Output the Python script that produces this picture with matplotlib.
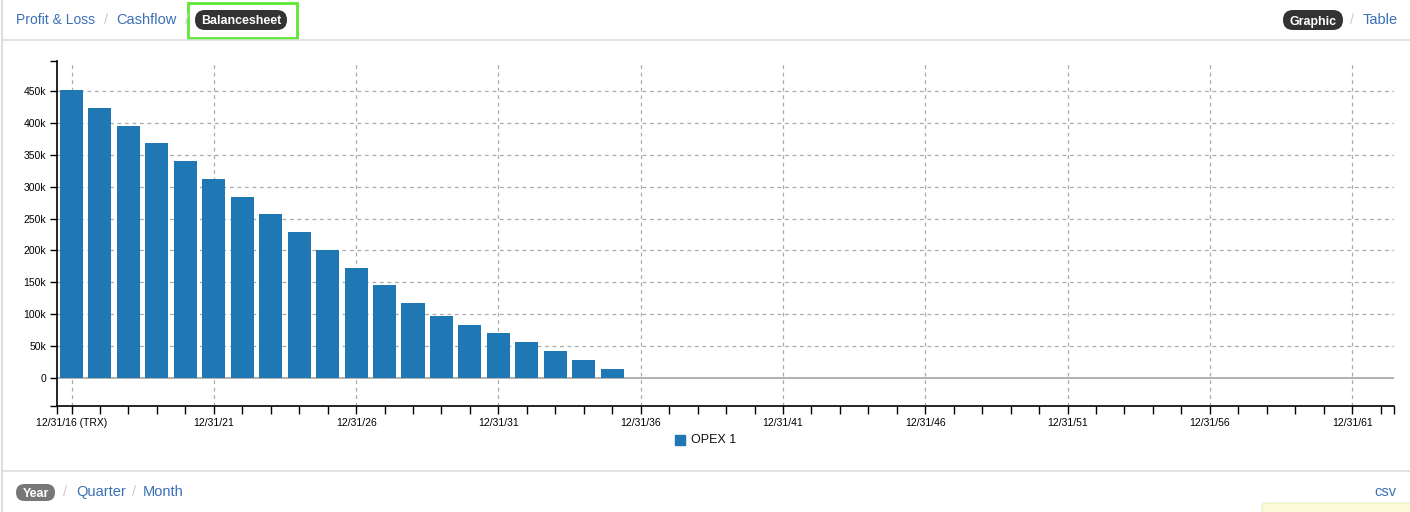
import matplotlib
matplotlib.use("Agg")
import matplotlib.pyplot as plt
from matplotlib.patches import Rectangle, FancyBboxPatch

plt.rcParams['font.family'] = ['Liberation Sans', 'DejaVu Sans']

# ---- data ----
years = list(range(2016, 2036))
opex1 = [452000, 423000, 395000, 368000, 340000, 312000, 284000, 257000, 229000,
         200000, 172000, 146000, 118000, 97000, 83000, 70500, 56400, 42300, 28200, 14100]
series_name = "OPEX 1"
label_years = list(range(2016, 2062, 5))
x_labels = ["12/31/16 (TRX)"] + ["12/31/%02d" % (y % 100) for y in label_years[1:]]
y_ticks = list(range(0, 450001, 50000))
y_labels = ["0"] + ["%dk" % (v // 1000) for v in y_ticks[1:]]

W, H = 1410, 512
fig = plt.figure(figsize=(W / 100, H / 100), dpi=100)

def fx(px):
    return px / W

def fy(py):
    return 1 - py / H

blue = "#1f77b4"
link = "#3a70b4"

# ---- overlay (pixel coordinates) ----
ov = fig.add_axes([0, 0, 1, 1], zorder=-1)
ov.set_xlim(0, W)
ov.set_ylim(H, 0)
ov.axis("off")

# ---- main axes ----
ax_l, ax_r, ax_t, ax_b = 57, 1394, 61, 406
ax = fig.add_axes([fx(ax_l), fy(ax_b), fx(ax_r - ax_l), (ax_b - ax_t) / H])
ax.patch.set_alpha(0)
xmin, xmax = 2015.49, 2062.47
ymin, ymax = -43900, 497000
ax.set_xlim(xmin, xmax)
ax.set_ylim(ymin, ymax)

ax.bar(years, opex1, width=0.81, color=blue, zorder=3)

# grid
for v in y_ticks[1:]:
    ax.axhline(v, color="#aaaaaa", lw=0.9, ls=(0, (3, 3)), zorder=1)
for y in label_years:
    ax.axvline(y, color="#aaaaaa", lw=0.9, ls=(0, (3, 3)), zorder=1)
ax.axhline(0, color="#aaaaaa", lw=1.3, zorder=2)

for s in ["top", "right"]:
    ax.spines[s].set_visible(False)
for s in ["left", "bottom"]:
    ax.spines[s].set_color("black")
    ax.spines[s].set_linewidth(1.2)

# y ticks
ax.set_yticks([ymin] + y_ticks + [ymax])
ax.set_yticklabels([""] + y_labels + [""], fontsize=7.5)
ax.tick_params(axis="y", length=5, width=1, pad=3, colors="black")

# x ticks
xt = [xmin] + list(range(2016, 2063)) + [xmax]
xl = []
for t in xt:
    if t in label_years:
        xl.append(x_labels[label_years.index(t)])
    else:
        xl.append("")
ax.set_xticks(xt)
ax.set_xticklabels(xl, fontsize=7.5)
ax.tick_params(axis="x", length=6, width=1, pad=3, colors="black")

# ---- legend ----
ov.add_patch(Rectangle((675, 435), 10, 10, color=blue))
ov.text(691, 440, series_name, fontsize=9, va="center", ha="left", color="#111")

# ---- frame lines ----
ov.plot([2, W], [40, 40], color="#dddddd", lw=1.2)
ov.plot([2, W], [471, 471], color="#dddddd", lw=1.2)
ov.plot([1.5, 1.5], [0, H], color="#dddddd", lw=1.5)

# ---- header ----
def pill(x0, x1, y0, y1, color):
    r = (y1 - y0) / 2
    ov.add_patch(FancyBboxPatch((x0, y0), x1 - x0, y1 - y0,
                                boxstyle="round,pad=0,rounding_size=%f" % r,
                                facecolor=color, edgecolor="none"))

fs = 10.5
fig_txt = dict(fontsize=fs, va="center")
ov.text(16, 20, "Profit & Loss", color=link, fontsize=10, va="center")
ov.text(104, 20, "/", color="#cccccc", **fig_txt)
ov.text(116, 20, "Cashflow", color=link, **fig_txt)
ov.text(185, 20, "/", color="#cccccc", **fig_txt)
pill(195, 287, 10, 30, "#333333")
ov.text(241, 20, "Balancesheet", fontsize=8.9, color="white", weight="bold",
        va="center_baseline", ha="center")
ov.add_patch(Rectangle((188, 3), 109, 35, fill=False, edgecolor="#5ce833", lw=2))

pill(1283, 1343, 10, 30, "#333333")
ov.text(1313, 20, "Graphic", fontsize=8.9, color="white", weight="bold",
        va="center_baseline", ha="center")
ov.text(1350, 20, "/", color="#cccccc", **fig_txt)
ov.text(1363, 20, "Table", color=link, **fig_txt)

# ---- footer ----
pill(16, 55, 484, 501, "#777777")
ov.text(35.5, 492.5, "Year", fontsize=8.9, color="white", weight="bold",
        va="center_baseline", ha="center")
ov.text(63, 492, "/", color="#cccccc", **fig_txt)
ov.text(76, 492, "Quarter", color=link, **fig_txt)
ov.text(132, 492, "/", color="#cccccc", **fig_txt)
ov.text(143, 492, "Month", color=link, **fig_txt)
ov.text(1374, 492, "csv", color=link, **fig_txt)
ov.add_patch(FancyBboxPatch((1262, 503), 160, 14,
                            boxstyle="round,pad=0,rounding_size=3",
                            facecolor="#fbfbd9", edgecolor="#eeeec0", lw=0.8))

fig.savefig("out.png", dpi=100)
